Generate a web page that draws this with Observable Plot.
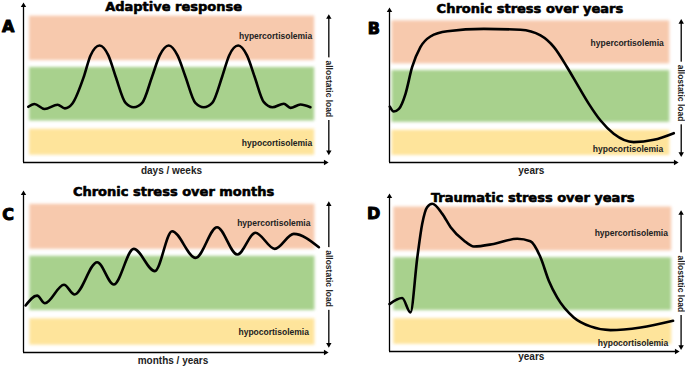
<!DOCTYPE html>
<html><head><meta charset="utf-8">
<script src="https://cdn.jsdelivr.net/npm/d3@7"></script>
<script src="https://cdn.jsdelivr.net/npm/@observablehq/plot@0.6"></script>
<style>
html,body{margin:0;padding:0;background:#fff;}
#wrap{position:relative;width:685px;height:366px;overflow:hidden;background:#fff;}
#wrap > div{position:absolute;}
</style></head><body><div id="wrap"></div>
<script>
// ---- data ----
const titles = ["Adaptive response", "Chronic stress over years", "Chronic stress over months", "Traumatic stress over years"];
const panelLetters = ["A", "B", "C", "D"];
const xLabels = ["days / weeks", "years", "months / years", "years"];
const yLabel = "allostatic load";

const bandNames = ["hypercortisolemia", "normal", "hypocortisolemia"];
const bandLow = [64.9, 26.4, 4.6];
const bandHigh = [93.2, 60.5, 21.2];
const bandColors = ["#f7c9ad", "#a8d18d", "#fee49b"];
const bandStart = [2.0, 0.9, 2.1, 1.5];
const bandEnd = [96.4, 98.0, 96.5, 98.3];

const adaptiveT = [1.6, 3.6, 7.0, 11.3, 13.7, 16.2, 20.0, 22.2, 25.2, 28.1, 30.5, 33.8, 36.5, 39.3, 42.6, 45.1, 48.1, 51.0, 53.6, 56.9, 59.7, 62.5, 65.8, 68.1, 71.1, 74.0, 76.5, 79.6, 82.4, 86.2, 88.4, 91.7, 95.0];
const adaptiveLoad = [35.5, 37.3, 34.1, 36.8, 34.5, 37.6, 54.8, 68.2, 74.5, 68.2, 54.8, 38.0, 35.2, 38.0, 54.8, 68.2, 74.5, 68.2, 54.8, 38.0, 35.2, 38.0, 54.8, 68.2, 74.5, 68.2, 54.8, 38.4, 35.2, 37.4, 34.8, 36.9, 35.2];

const chronicYearsT = [0.1, 1.5, 3.3, 5.6, 7.9, 10.8, 14.3, 20.2, 33.0, 45.8, 52.8, 57.5, 62.1, 66.2, 69.7, 73.8, 78.4, 85.4, 92.4, 99.4];
const chronicYearsLoad = [36.8, 33.6, 35.3, 45.2, 62.7, 75.9, 82.9, 86.4, 87.9, 87.3, 83.6, 75.9, 62.7, 49.6, 38.6, 27.6, 18.9, 13.4, 14.9, 19.3];

const chronicMonthsT = [0.7, 4.5, 7.1, 13.4, 16.9, 24.4, 29.9, 36.5, 43.5, 49.2, 57.0, 64.1, 70.8, 76.8, 83.2, 89.5, 97.8];
const chronicMonthsLoad = [29.6, 35.8, 31.0, 42.6, 36.5, 56.8, 42.8, 65.2, 51.2, 76.3, 59.5, 78.8, 61.6, 75.3, 65.2, 74.6, 66.2];

const traumaT = [0, 4.4, 7.3, 9.7, 11.4, 13.1, 14.9, 18.4, 21.3, 25.9, 29.4, 36.3, 44.5, 49.1, 52.6, 55.5, 58.4, 64.2, 70.0, 77.0, 87.5, 98.8];
const traumaLoad = [30.6, 34.5, 25.2, 60.8, 82.4, 93.1, 95.3, 88.8, 80.2, 71.6, 67.7, 69.4, 72.7, 71.1, 60.8, 45.7, 34.9, 22.0, 16.2, 13.8, 15.5, 19.8];

const seriesT = [adaptiveT, chronicYearsT, chronicMonthsT, traumaT];
const seriesLoad = [adaptiveLoad, chronicYearsLoad, chronicMonthsLoad, traumaLoad];

// label anchors (data units)
const titleX = [49.7, 49.1, 49.7, 49.9];
const titleY = [98.9, 101.3, 101.1, 99.2];
const letterX = [-5.1, -5.5, -5.1, -5.5];
const letterY = [86.4, 88.2, 86.7, 88.6];
const hyperX = [95.6, 95.9, 95.0, 97.0];
const hyperY = [80.6, 78.3, 81.1, 76.5];
const hypoX = [95.6, 95.7, 94.5, 97.1];
const hypoY = [12.5, 9.0, 12.8, 5.4];
const xLabelX = [49.0, 49.6, 49.5, 49.4];
const xLabelY = [-5.1, -5.5, -5.5, -3.6];
const loadArrowX = [101.1, 102.0, 101.1, 101.6];
const loadArrowTop = [92.5, 92.3, 93.1, 89.2];
const loadArrowBottom = [6.6, 5.7, 5.0, 3.0];
const loadLabelY = [46.9, 45.7, 46.5, 43.6];

// ---- layout ----
const panelLeft = [0, 340, 0, 340];
const panelTop = [0, 0, 180, 180];
const panelW = [340, 345, 340, 345];
const panelH = [180, 180, 186, 186];
const mL = [23, 49, 23, 49];
const mR = [15, 10, 15, 9];
const mT = [5, 10, 13, 16];
const mB = [18, 18, 14, 15];

const wrap = document.getElementById("wrap");
const bold = "Liberation Sans";
const heavy = "DejaVu Sans";

for (let p = 0; p < 4; p++) {
  const bands = bandNames.map((name, j) => ({name, x1: bandStart[p], x2: bandEnd[p], y1: bandLow[j], y2: bandHigh[j], fill: bandColors[j]}));
  const curve = seriesT[p].map((t, i) => ({t, load: seriesLoad[p][i]}));
  const chart = Plot.plot({
    width: panelW[p], height: panelH[p],
    marginLeft: mL[p], marginRight: mR[p], marginTop: mT[p], marginBottom: mB[p],
    x: {domain: [0, 100], axis: null},
    y: {domain: [0, 100], axis: null},
    color: {type: "identity"},
    style: {background: "transparent", overflow: "visible", fontFamily: bold},
    marks: [
      Plot.rect(bands, {x1: "x1", x2: "x2", y1: "y1", y2: "y2", fill: "fill", imageFilter: "blur(1.4px)"}),
      // axes
      Plot.ruleX([0], {y1: 0, y2: 100, stroke: "black", strokeWidth: 1.3}),
      Plot.ruleY([0], {x1: 0, x2: 100, stroke: "black", strokeWidth: 1.3}),
      Plot.dot([{x: 0, y: 100}], {x: "x", y: "y", symbol: "triangle", r: 2, fill: "black", stroke: null}),
      Plot.dot([{x: 100, y: 0}], {x: "x", y: "y", symbol: "triangle", r: 2, fill: "black", stroke: null, rotate: 90}),
      // allostatic load double arrow
      Plot.ruleX([loadArrowX[p]], {y1: loadArrowBottom[p], y2: loadArrowTop[p], stroke: "black", strokeWidth: 1.3}),
      Plot.dot([{x: loadArrowX[p], y: loadArrowTop[p]}], {x: "x", y: "y", symbol: "triangle", r: 2, fill: "black", stroke: null}),
      Plot.dot([{x: loadArrowX[p], y: loadArrowBottom[p]}], {x: "x", y: "y", symbol: "triangle", r: 2, fill: "black", stroke: null, rotate: 180}),
      Plot.text([yLabel], {x: loadArrowX[p], y: loadLabelY[p], text: d => d, rotate: 90, fontSize: 8.5, fontWeight: "bold", fontFamily: bold, fill: "#222", stroke: "white", strokeWidth: 7}),
      // band labels
      Plot.text([bandNames[0]], {x: hyperX[p], y: hyperY[p], text: d => d, textAnchor: "end", fontSize: 8.5, fontWeight: "bold", fontFamily: bold, fill: "#222"}),
      Plot.text([bandNames[2]], {x: hypoX[p], y: hypoY[p], text: d => d, textAnchor: "end", fontSize: 8.5, fontWeight: "bold", fontFamily: bold, fill: "#222"}),
      // curve
      Plot.line(curve, {x: "t", y: "load", curve: "monotone-x", stroke: "black", strokeWidth: 2.6, strokeLinecap: "round", strokeLinejoin: "round"}),
      // title, letter, x label
      Plot.text([titles[p]], {x: titleX[p], y: titleY[p], text: d => d, fontSize: 13, fontWeight: "bold", fontFamily: heavy, fill: "black", stroke: "black", strokeWidth: 0.6}),
      Plot.text([panelLetters[p]], {x: letterX[p], y: letterY[p], text: d => d, fontSize: 16, fontWeight: "bold", fontFamily: heavy, fill: "black", stroke: "black", strokeWidth: 1}),
      Plot.text([xLabels[p]], {x: xLabelX[p], y: xLabelY[p], text: d => d, fontSize: 10, fontWeight: "bold", fontFamily: bold, fill: "#222"})
    ]
  });
  const holder = document.createElement("div");
  holder.style.left = panelLeft[p] + "px";
  holder.style.top = panelTop[p] + "px";
  holder.appendChild(chart);
  wrap.appendChild(holder);
}
</script>
</body></html>
